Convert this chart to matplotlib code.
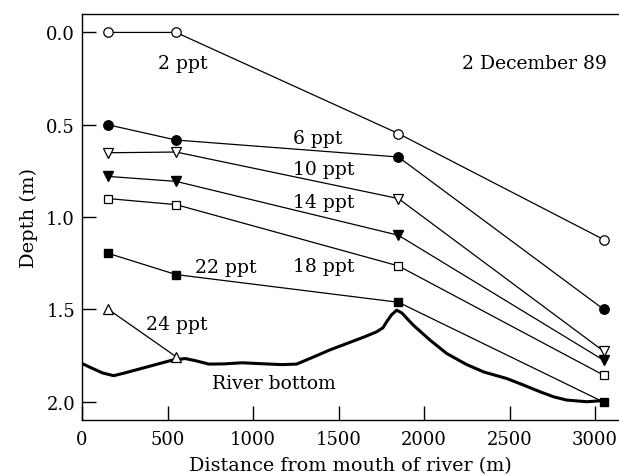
import matplotlib
matplotlib.use("Agg")
import matplotlib.pyplot as plt

# Station distances (m)
stations = [150, 550, 1850, 3050]

# Isohaline depths (m)
ppt2 = [0.00, 0.00, 0.548, 1.122]
ppt6 = [0.50, 0.583, 0.675, 1.50]
ppt10 = [0.652, 0.648, 0.90, 1.727]
ppt14 = [0.78, 0.807, 1.099, 1.776]
ppt18 = [0.90, 0.933, 1.265, 1.857]
ppt22 = [1.196, 1.312, 1.462, 2.003]
ppt24_x = [150, 550]
ppt24 = [1.498, 1.757]

# River bottom profile
bottom_x = [0, 60, 120, 185, 250, 350, 450, 526, 604, 670, 741, 830, 936,
            1050, 1170, 1255, 1350, 1450, 1550, 1650, 1723, 1760, 1781, 1810,
            1840, 1870, 1937, 2035, 2133, 2250, 2350, 2483, 2580, 2678, 2760,
            2834, 2951, 3029, 3050]
bottom_y = [1.794, 1.82, 1.845, 1.86, 1.845, 1.82, 1.795, 1.776, 1.767, 1.78,
            1.797, 1.796, 1.79, 1.795, 1.80, 1.797, 1.76, 1.72, 1.685, 1.65,
            1.622, 1.60, 1.568, 1.53, 1.505, 1.52, 1.586, 1.667, 1.74, 1.80,
            1.84, 1.875, 1.91, 1.947, 1.975, 1.992, 2.001, 1.996, 2.0]

plt.rcParams['font.family'] = ['DejaVu Serif']
fig = plt.figure(figsize=(6.19, 4.77), dpi=100)
ax = fig.add_axes([0.1325, 0.1174, 0.8675, 0.8512])

lw = 0.9
ms = 6.8
ax.plot(bottom_x, bottom_y, color='black', lw=2.2, solid_joinstyle='round',
        solid_capstyle='round')
ax.plot(stations, ppt2, color='black', lw=lw, marker='o', ms=ms, mfc='white', mec='black', mew=0.9)
ax.plot(stations, ppt6, color='black', lw=lw, marker='o', ms=ms, mfc='black', mec='black')
ax.plot(stations, ppt10, color='black', lw=lw, marker='v', ms=ms + 1, mfc='white', mec='black', mew=0.9)
ax.plot(stations, ppt14, color='black', lw=lw, marker='v', ms=ms + 1, mfc='black', mec='black')
ax.plot(stations, ppt18, color='black', lw=lw, marker='s', ms=ms - 0.5, mfc='white', mec='black', mew=0.9)
ax.plot(stations, ppt22, color='black', lw=lw, marker='s', ms=ms - 0.5, mfc='black', mec='black')
ax.plot(ppt24_x, ppt24, color='black', lw=lw, marker='^', ms=ms + 1, mfc='white', mec='black', mew=0.9)

fs = 13.5
ax.text(444, 0.191, '2 ppt', fontsize=fs, ha='left', va='baseline')
ax.text(2222, 0.191, '2 December 89', fontsize=fs, ha='left', va='baseline')
ax.text(1234, 0.597, '6 ppt', fontsize=fs, ha='left', va='baseline')
ax.text(1234, 0.766, '10 ppt', fontsize=fs, ha='left', va='baseline')
ax.text(1234, 0.944, '14 ppt', fontsize=fs, ha='left', va='baseline')
ax.text(1234, 1.29, '18 ppt', fontsize=fs, ha='left', va='baseline')
ax.text(661, 1.297, '22 ppt', fontsize=fs, ha='left', va='baseline')
ax.text(372, 1.608, '24 ppt', fontsize=fs, ha='left', va='baseline')
ax.text(758, 1.929, 'River bottom', fontsize=fs, ha='left', va='baseline')

ax.set_xlim(0, 3140)
ax.set_ylim(2.1, -0.1)
ax.set_xticks([0, 500, 1000, 1500, 2000, 2500, 3000])
ax.set_yticks([0.0, 0.5, 1.0, 1.5, 2.0])
ax.set_yticklabels(['0.0', '0.5', '1.0', '1.5', '2.0'])
ax.tick_params(direction='in', length=10, width=1, labelsize=13)
ax.tick_params(axis='x', pad=7)
ax.tick_params(axis='y', pad=5)
ax.spines['right'].set_visible(False)
for s in ['left', 'bottom', 'top']:
    ax.spines[s].set_linewidth(1)
ax.set_xlabel('Distance from mouth of river (m)', fontsize=13.8, labelpad=6)
ax.set_ylabel('Depth (m)', fontsize=14, labelpad=6)

fig.savefig('out.png', dpi=100)
